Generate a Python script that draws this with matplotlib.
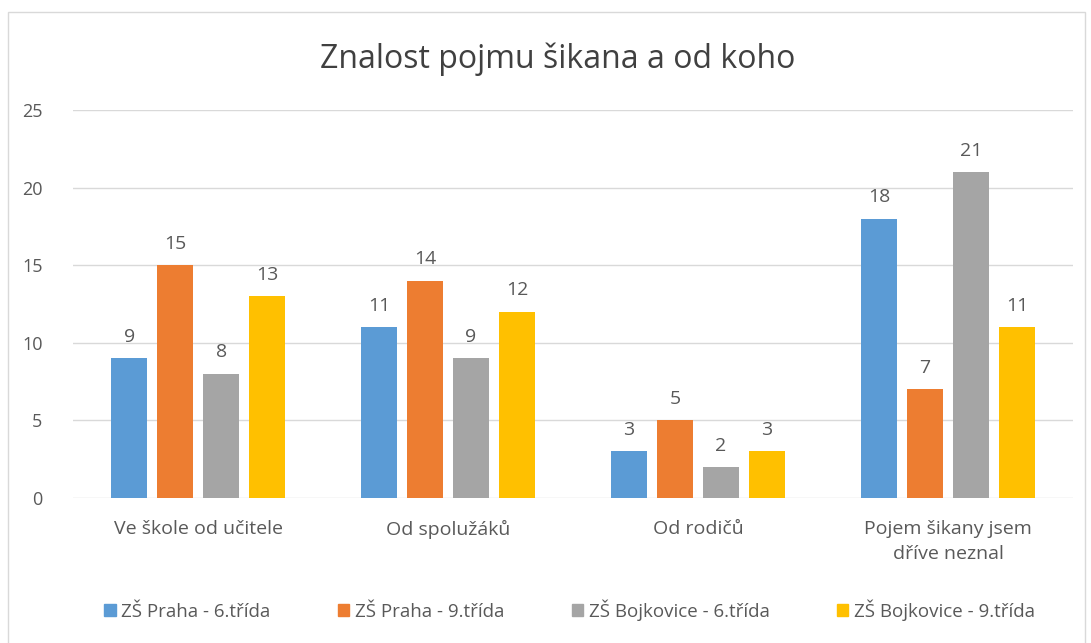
import matplotlib
matplotlib.use("Agg")
import matplotlib.pyplot as plt
from matplotlib.patches import Rectangle
import numpy as np

plt.rcParams['font.family'] = ['Open Sans', 'DejaVu Sans']

categories = ["Ve škole od učitele", "Od spolužáků", "Od rodičů", "Pojem šikany jsem\ndříve neznal"]
series = ["ZŠ Praha - 6.třída", "ZŠ Praha - 9.třída", "ZŠ Bojkovice - 6.třída", "ZŠ Bojkovice - 9.třída"]
values = [
    [9, 11, 3, 18],
    [15, 14, 5, 7],
    [8, 9, 2, 21],
    [13, 12, 3, 11],
]
colors = ["#5B9BD5", "#ED7D31", "#A5A5A5", "#FFC000"]
txt = "#595959"

fig = plt.figure(figsize=(10.91, 6.43), dpi=100)
ax = fig.add_axes([0.067, 0.2255, 0.9165, 0.6035])

x = np.arange(len(categories))
step = 0.184
width = 0.144
for i, (name, vals) in enumerate(zip(series, values)):
    pos = x + (i - 1.5) * step
    bars = ax.bar(pos, vals, width, color=colors[i], label=name, zorder=3)
    for b, v in zip(bars, vals):
        ax.text(b.get_x() + b.get_width() / 2, v + 0.8, str(v), ha="center", va="bottom",
                fontsize=14, color=txt)

ax.set_xlim(-0.5, 3.5)
ax.set_ylim(0, 25)
ax.set_yticks(range(0, 26, 5))
ax.yaxis.grid(True, color="#D9D9D9", linewidth=1, zorder=0)
ax.set_xticks(x)
ax.set_xticklabels(categories, fontsize=14, color=txt, linespacing=1.5)
ax.tick_params(axis="x", length=0, pad=16)
ax.tick_params(axis="y", length=0, pad=22, labelcolor=txt, labelsize=13)
for s in ax.spines.values():
    s.set_visible(False)

fig.text(0.511, 0.908, "Znalost pojmu šikana a od koho", ha="center", va="center",
         fontsize=23, color="#404040")

handles = [Rectangle((0, 0), 1, 1, color=c) for c in colors]
fig.legend(handles, series, loc="center", bbox_to_anchor=(0.522, 0.051), ncol=4,
           frameon=False, fontsize=13.5, handlelength=0.6, handleheight=0.6,
           handletextpad=0.3, columnspacing=3.6, labelcolor=txt)

fig.patches.append(Rectangle((8 / 1091, -0.01), 1077 / 1091, 1 - 12 / 643 + 0.01,
                             transform=fig.transFigure, fill=False,
                             edgecolor="#D9D9D9", linewidth=1))

fig.savefig("out.png")
plt.close(fig)
